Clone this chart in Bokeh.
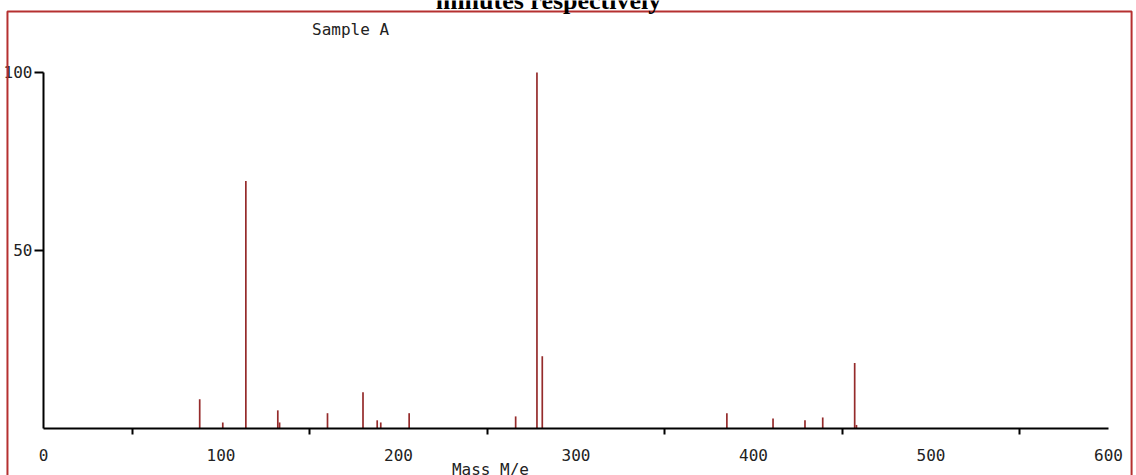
from bokeh.plotting import figure
from bokeh.models import ColumnDataSource, FixedTicker, Range1d, Label, BoxAnnotation
from bokeh.embed import file_html
from bokeh.resources import INLINE

# ---- data ----
mass = [88, 101, 114, 132, 133, 160, 180, 188, 190, 206, 266, 278, 281, 385, 411, 429, 439, 457, 458]
intensity = [8.2, 1.7, 69.5, 5.1, 1.7, 4.3, 10.2, 2.3, 1.7, 4.3, 3.4, 100, 20.3, 4.3, 2.8, 2.3, 3.1, 18.4, 1.0]
x_ticks = [0, 100, 200, 300, 400, 500, 600]
x_minor_ticks = [50, 150, 250, 350, 450, 550]
y_ticks = [50, 100]
title_text = "minutes respectively"
sample_text = "Sample A"
x_label_text = "Mass M/e"

src = ColumnDataSource(dict(x=mass, y0=[0] * len(mass), y1=intensity))

# plot frame covers the whole canvas; axes are pinned at data 0 with fixed_location
p = figure(width=1136, height=475, output_backend="svg", toolbar_location=None,
           x_range=Range1d(-24.225, 615.77), y_range=Range1d(-13.20, 120.22),
           min_border=0, min_border_left=0, min_border_right=0,
           min_border_top=0, min_border_bottom=0)
p.background_fill_color = "white"
p.border_fill_color = "white"
p.outline_line_color = None
p.xgrid.visible = False
p.ygrid.visible = False

p.segment(x0="x", y0="y0", x1="x", y1="y1", source=src, line_color="#952b2b", line_width=1.7)

mono = "DejaVu Sans Mono"

xa = p.xaxis[0]
xa.fixed_location = 0
xa.bounds = (0, 600)
xa.ticker = FixedTicker(ticks=x_ticks, minor_ticks=x_minor_ticks)
xa.axis_line_width = 2
xa.axis_line_color = "black"
xa.major_tick_out = 0
xa.major_tick_in = 0
xa.minor_tick_out = 6
xa.minor_tick_in = 0
xa.minor_tick_line_width = 2
xa.minor_tick_line_color = "black"
xa.major_label_standoff = 14
xa.major_label_text_font = mono
xa.major_label_text_font_size = "16px"
xa.major_label_text_color = "#222222"

ya = p.yaxis[0]
ya.fixed_location = 0
ya.bounds = (0, 100)
ya.ticker = FixedTicker(ticks=y_ticks, minor_ticks=[])
ya.axis_line_width = 2
ya.axis_line_color = "black"
ya.major_tick_out = 9
ya.major_tick_in = 0
ya.major_tick_line_width = 2
ya.minor_tick_out = 0
ya.minor_tick_in = 0
ya.major_label_standoff = 2
ya.major_label_text_font = mono
ya.major_label_text_font_size = "16px"
ya.major_label_text_color = "#222222"

# outer red frame around the figure
p.add_layout(BoxAnnotation(left=-20.3, right=613.0, top=117.1, bottom=-15.0,
                           fill_color=None, fill_alpha=0, line_color="#b53030",
                           line_alpha=1.0, line_width=2))

p.add_layout(Label(x=284.5, y=120.2, text=title_text, text_align="center",
                   text_baseline="alphabetic", text_font="Liberation Serif",
                   text_font_style="bold", text_font_size="26px", text_color="black"))
p.add_layout(Label(x=173.0, y=112.0, text=sample_text, text_align="center",
                   text_baseline="middle", text_font=mono, text_font_size="16px",
                   text_color="#222222"))
p.add_layout(Label(x=251.8, y=-11.5, text=x_label_text, text_align="center",
                   text_baseline="middle", text_font=mono, text_font_size="16px",
                   text_color="#222222"))

open("out.html", "w").write(file_html(p, INLINE))
